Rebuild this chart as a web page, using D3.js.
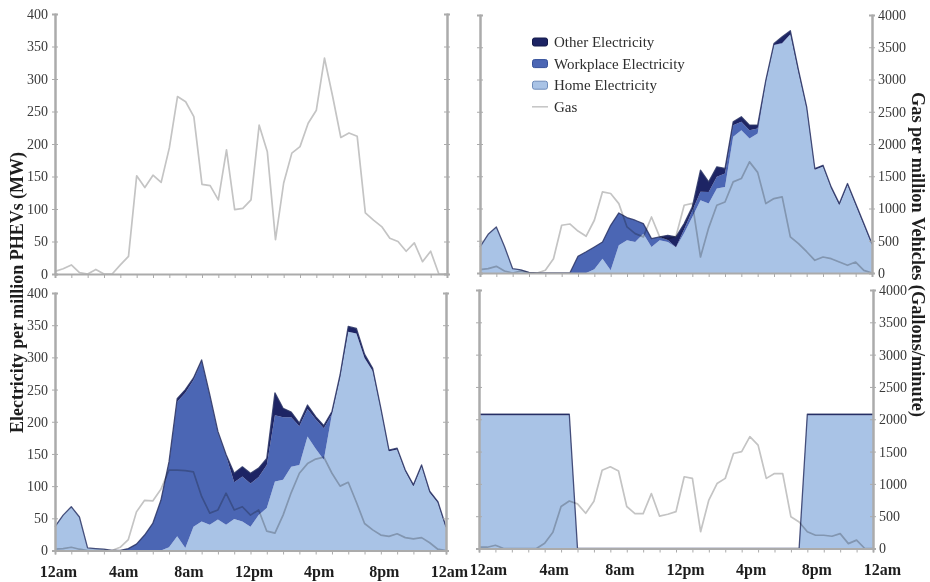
<!DOCTYPE html>
<html>
<head>
<meta charset="utf-8">
<script src="https://cdn.jsdelivr.net/npm/d3@7"></script>
<style>
  html, body { margin: 0; padding: 0; background: #fff; }
  svg { display: block; font-family: "Liberation Serif", "Times New Roman", serif; }
  .gas { mix-blend-mode: multiply; }
</style>
</head>
<body>
<svg id="chart" width="930" height="582"></svg>
<script>
// Half-hour time steps over one day (hours after midnight)
const hours = [0, 0.5, 1, 1.5, 2, 2.5, 3, 3.5, 4, 4.5, 5, 5.5, 6, 6.5, 7, 7.5, 8, 8.5, 9, 9.5,
  10, 10.5, 11, 11.5, 12, 12.5, 13, 13.5, 14, 14.5, 15, 15.5, 16, 16.5, 17, 17.5, 18, 18.5, 19, 19.5,
  20, 20.5, 21, 21.5, 22, 22.5, 23, 23.5, 24];
const hourTicks = [0, 1, 2, 3, 4, 5, 6, 7, 8, 9, 10, 11, 12, 13, 14, 15, 16, 17, 18, 19, 20, 21, 22, 23, 24];
const timeTickHours = [0, 4, 8, 12, 16, 20, 24];
const timeTickLabels = ["12am", "4am", "8am", "12pm", "4pm", "8pm", "12am"];
const mwTicks = [0, 50, 100, 150, 200, 250, 300, 350, 400];
const gallonTicks = [0, 500, 1000, 1500, 2000, 2500, 3000, 3500, 4000];
const legendLabels = ["Other Electricity", "Workplace Electricity", "Home Electricity", "Gas"];

// Top left: conventional fleet, gasoline only (gallons/minute)
const gasA = [40, 80, 140, 20, 0, 70, 0, 0, 140, 270, 1510, 1330, 1520, 1410, 1940, 2730, 2650, 2420, 1380, 1360,
  1140, 1910, 990, 1010, 1140, 2290, 1880, 530, 1400, 1860, 1960, 2320, 2520, 3320, 2730, 2100, 2170, 2120, 940, 830,
  730, 550, 500, 350, 480, 190, 350, 0, 0];

// Top right: electricity (MW) and gasoline (gallons/minute)
const homeB = [40.4, 60, 71.4, 41, 6.7, 5, 1, 0, 0, 0, 0, 0, 0, 0, 6, 22.2, 4.1, 43, 50.7, 48.1,
  61, 40.4, 50.7, 48, 40, 62, 86.9, 112.8, 107.6, 130.9, 133.5, 211.1, 221.5, 208.5, 216.3, 296.5, 353.4, 356, 370, 311,
  255, 160, 165, 131.5, 105.6, 136.7, 105.6, 74.6, 43.5];
const workB = [0, 0, 0, 0, 0, 0, 0, 0, 0, 0, 0, 0, 26, 33, 34.4, 25.9, 69.9, 50.1, 35.3, 33.7,
  15.6, 12.9, 5.2, 3, 0, 6, 10, 13, 18.1, 18.2, 20.7, 18.1, 13, 13, 7.8, 0, 0, 0.4, 0, 0,
  0, 0, 0, 0, 0, 0, 0, 0, 0];
const otherB = [0, 0, 0, 0, 0, 0, 0, 0, 0, 0, 0, 0, 0, 0, 0, 0, 0, 0, 0, 0,
  0, 0, 0, 7.5, 16, 8.6, 5.6, 33.6, 15.6, 15.5, 7.8, 5.2, 7.7, 7.8, 5.2, 2.6, 2.6, 10, 5.7, 3.6,
  2.7, 2, 2, 2, 2, 2, 2, 2, 2];
const gasB = [52, 67, 103, 31, 0, 31, 0, 0, 43, 222, 740, 760, 650, 570, 818, 1258, 1232, 1076, 714, 610,
  560, 869, 559, 530, 570, 1050, 1080, 248, 700, 1050, 1100, 1413, 1465, 1723, 1560, 1076, 1154, 1180, 559, 455,
  330, 197, 248, 222, 170, 119, 170, 41, 0];

// Bottom left
const homeC = [37, 55, 68, 52, 4, 3, 2, 0, 0, 0, 0, 0, 0, 0, 5, 22, 4, 37, 45, 40,
  48, 40, 49, 45, 37, 55, 66, 107, 110, 130, 133, 177, 158, 141, 212, 269, 340, 337, 299, 279,
  219, 154, 157, 123, 100, 131, 90, 74, 35];
const workC = [0, 0, 0, 0, 0, 0, 0, 0, 0, 3, 10, 24, 42, 78, 130, 209, 241, 228, 249, 200,
  135, 107, 57, 70, 67, 59, 67, 103, 97, 77, 60, 43, 46, 49, 0, 0, 0, 0, 0, 0,
  0, 0, 0, 0, 0, 0, 0, 0, 0];
const otherC = [0, 0, 0, 0, 0, 0, 0, 0, 0, 0, 0, 0, 0, 0, 3, 5, 5, 3, 2, 2,
  2, 2, 14, 15, 16, 14, 10, 35, 14, 8, 5, 6, 4, 4, 4, 4, 8, 8, 6, 4,
  2, 2, 2, 2, 2, 2, 2, 2, 2];
const gasC = [20, 30, 50, 20, 0, 0, 0, 0, 50, 170, 600, 780, 770, 950, 1250, 1250, 1240, 1220, 840, 580,
  630, 890, 630, 680, 550, 630, 300, 270, 550, 900, 1200, 1350, 1420, 1450, 1200, 1000, 1060, 750, 420, 320,
  240, 220, 260, 200, 180, 200, 120, 20, 0];

// Bottom right
const homeD = [206, 206, 206, 206, 206, 206, 206, 206, 206, 206, 206, 206, 0, 0, 0, 0, 0, 0, 0, 0,
  0, 0, 0, 0, 0, 0, 0, 0, 0, 0, 0, 0, 0, 0, 0, 0, 0, 0, 0, 0,
  206, 206, 206, 206, 206, 206, 206, 206, 206];
const workD = [0, 0, 0, 0, 0, 0, 0, 0, 0, 0, 0, 0, 0, 0, 0, 0, 0, 0, 0, 0,
  0, 0, 0, 0, 0, 0, 0, 0, 0, 0, 0, 0, 0, 0, 0, 0, 0, 0, 0, 0,
  0, 0, 0, 0, 0, 0, 0, 0, 0];
const otherD = [2, 2, 2, 2, 2, 2, 2, 2, 2, 2, 2, 2, 0, 0, 0, 0, 0, 0, 0, 0,
  0, 0, 0, 0, 0, 0, 0, 0, 0, 0, 0, 0, 0, 0, 0, 0, 0, 0, 0, 0,
  2, 2, 2, 2, 2, 2, 2, 2, 2];
const gasD = [20, 20, 50, 0, 0, 0, 0, 0, 80, 250, 650, 735, 690, 545, 730, 1210, 1265, 1200, 650, 540,
  540, 850, 500, 530, 570, 1110, 1085, 260, 750, 1005, 1085, 1470, 1500, 1730, 1600, 1085, 1160, 1160, 490, 410,
  260, 205, 205, 190, 230, 75, 130, 0, 0];

// Styling
const colors = {
  home: "#a9c3e6",
  work: "#4b66b4",
  other: "#1d2464",
  outline: "#2c3566",
  gas: "#c4c4c4",
  axis: "#ababab",
  label: "#3a3a3a"
};

const svg = d3.select("#chart");

// Panel layout (pixel boxes) and the series each one draws
const panels = [
  { box: { x0: 55, x1: 447, yb: 274, yt: 14 }, gas: gasA, labelsLeft: true, labelsRight: false, timeLabels: false, labelShift: 3 },
  { box: { x0: 480, x1: 872, yb: 273, yt: 15 }, home: homeB, work: workB, other: otherB, gas: gasB, labelsLeft: false, labelsRight: true, timeLabels: false, labelShift: 9 },
  { box: { x0: 55, x1: 446, yb: 550.5, yt: 293 }, home: homeC, work: workC, other: otherC, gas: gasC, labelsLeft: true, labelsRight: false, timeLabels: true, labelShift: 3 },
  { box: { x0: 479, x1: 873, yb: 548.5, yt: 290 }, home: homeD, work: workD, other: otherD, gas: gasD, labelsLeft: false, labelsRight: true, timeLabels: true, labelShift: 9 }
];

const stack = d3.stack().keys(["home", "work", "other"]);

panels.forEach(p => {
  const b = p.box;
  const x = d3.scaleLinear().domain([0, 24]).range([b.x0, b.x1]);
  const yE = d3.scaleLinear().domain([0, 400]).range([b.yb, b.yt]);
  const yG = d3.scaleLinear().domain([0, 4000]).range([b.yb, b.yt]);
  const g = svg.append("g");

  // Stacked electricity areas
  if (p.home) {
    const rows = hours.map((h, i) => ({ hour: h, home: p.home[i], work: p.work[i], other: p.other[i] }));
    const layers = stack(rows);
    const area = d3.area()
      .x(d => x(d.data.hour))
      .y0(d => yE(d[0]))
      .y1(d => yE(d[1]));
    g.selectAll("path.layer").data(layers).join("path")
      .attr("class", "layer")
      .attr("d", area)
      .attr("fill", d => colors[d.key]);
    // outline along the top of the stack
    const top = layers[layers.length - 1];
    g.append("path")
      .attr("d", d3.line().x(d => x(d.data.hour)).y(d => yE(d[1]))(top))
      .attr("fill", "none")
      .attr("stroke", colors.outline)
      .attr("stroke-width", 1.3)
      .attr("stroke-linejoin", "round")
      .attr("stroke-opacity", 0.85);
  }

  // Gasoline use line
  g.append("path")
    .attr("class", "gas")
    .attr("d", d3.line().x((d, i) => x(hours[i])).y(d => yG(d))(p.gas))
    .attr("fill", "none")
    .attr("stroke", colors.gas)
    .attr("stroke-width", 1.7)
    .attr("stroke-linejoin", "round");

  // Axes
  const styleAxis = sel => {
    sel.select(".domain").attr("stroke", colors.axis).attr("stroke-width", 2);
    sel.selectAll(".tick line").attr("stroke", colors.axis).attr("stroke-width", 1);
    sel.selectAll(".tick text").attr("fill", colors.label)
      .style("font-family", "'Liberation Serif', serif").style("font-size", "14px");
  };

  // left vertical axis
  g.append("g").attr("transform", `translate(${b.x0},0)`)
    .call(d3.axisLeft(yE).tickValues(mwTicks).tickSize(3).tickPadding(4)
      .tickFormat(p.labelsLeft ? d3.format("d") : ""))
    .call(styleAxis);
  g.append("g").attr("transform", `translate(${b.x0},0)`)
    .call(d3.axisRight(yE).tickValues(mwTicks).tickSize(3).tickFormat(""))
    .call(styleAxis);

  // right vertical axis
  g.append("g").attr("transform", `translate(${b.x1},0)`)
    .call(d3.axisRight(yG).tickValues(gallonTicks).tickSize(3).tickPadding(3)
      .tickFormat(p.labelsRight ? d3.format("d") : ""))
    .call(styleAxis);
  g.append("g").attr("transform", `translate(${b.x1},0)`)
    .call(d3.axisLeft(yG).tickValues(gallonTicks).tickSize(3).tickFormat(""))
    .call(styleAxis);

  // horizontal time axis with hourly ticks
  g.append("g").attr("transform", `translate(0,${b.yb})`)
    .call(d3.axisBottom(x).tickValues(hourTicks).tickSize(4).tickFormat(""))
    .call(styleAxis);

  if (p.timeLabels) {
    const lab = g.append("g").attr("transform", `translate(${p.labelShift},${b.yb})`)
      .call(d3.axisBottom(x).tickValues(timeTickHours).tickSize(0).tickPadding(15)
        .tickFormat((d, i) => timeTickLabels[i]));
    lab.select(".domain").remove();
    lab.selectAll(".tick text")
      .attr("fill", "#1e1e1e")
      .style("font-family", "'Liberation Serif', serif")
      .style("font-size", "16px")
      .style("font-weight", "bold");
  }
});

// Legend
const legend = svg.append("g").attr("transform", "translate(532,42)");
const legendColors = [colors.other, colors.work, colors.home, null];
const legendStroke = ["#141a4a", "#34509a", "#6f8cba", null];
legendLabels.forEach((name, i) => {
  const row = legend.append("g").attr("transform", `translate(0,${i * 21.6})`);
  if (legendColors[i]) {
    row.append("rect")
      .attr("x", 0.5).attr("y", -4).attr("width", 15).attr("height", 8).attr("rx", 2)
      .attr("fill", legendColors[i])
      .attr("stroke", legendStroke[i]).attr("stroke-width", 1);
  } else {
    row.append("line")
      .attr("x1", 0).attr("x2", 16).attr("y1", 0).attr("y2", 0)
      .attr("stroke", colors.gas).attr("stroke-width", 1.5);
  }
  row.append("text")
    .attr("x", 22).attr("y", 0).attr("dy", "0.33em")
    .attr("fill", "#2e2e2e")
    .style("font-size", "15px")
    .text(name);
});

// Axis titles
svg.append("text")
  .attr("transform", "translate(23,292.5) rotate(-90)")
  .attr("text-anchor", "middle")
  .attr("textLength", 281)
  .attr("lengthAdjust", "spacingAndGlyphs")
  .style("font-size", "18px").style("font-weight", "bold")
  .attr("fill", "#1e1e1e")
  .text("Electricity per million PHEVs (MW)");

svg.append("text")
  .attr("transform", "translate(912,254.5) rotate(90)")
  .attr("text-anchor", "middle")
  .attr("textLength", 325)
  .attr("lengthAdjust", "spacingAndGlyphs")
  .style("font-size", "18px").style("font-weight", "bold")
  .attr("fill", "#1e1e1e")
  .text("Gas per million Vehicles (Gallons/minute)");
</script>
</body>
</html>
